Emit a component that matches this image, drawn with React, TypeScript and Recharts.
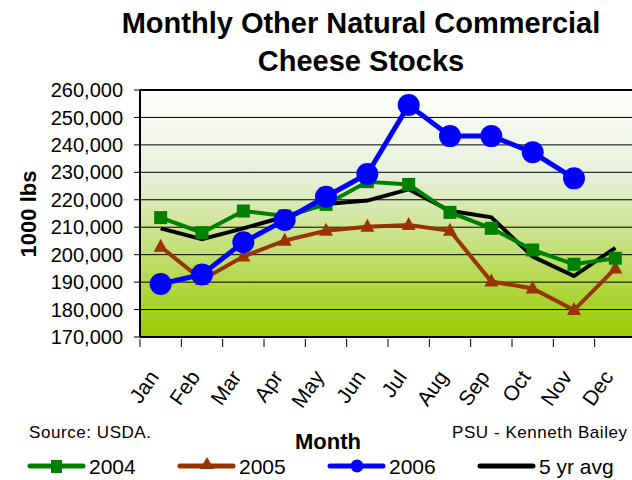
import React from "react";
import {
  LineChart,
  Line,
  XAxis,
  YAxis,
  CartesianGrid,
  Legend,
  ReferenceLine,
} from "recharts";

const months = ["Jan", "Feb", "Mar", "Apr", "May", "Jun", "Jul", "Aug", "Sep", "Oct", "Nov", "Dec"];
const stocks2004 = [213500, 208000, 215900, 214100, 218300, 226600, 225600, 215400, 209600, 201700, 196500, 198700];
const stocks2005 = [202900, 190800, 199300, 205100, 208700, 210200, 210800, 208700, 190200, 187700, 179800, 195000];
const stocks2006 = [189300, 192800, 204500, 212600, 221100, 229400, 254500, 243200, 243200, 237300, 227800, null];
const avg5yr = [209600, 205600, 209600, 213800, 218500, 219700, 223800, 216000, 213600, 199300, 192200, 202500];
const yTicks = [170000, 180000, 190000, 200000, 210000, 220000, 230000, 240000, 250000, 260000];

const data = months.map((month, i) => ({
  month,
  y2004: stocks2004[i],
  y2005: stocks2005[i],
  y2006: stocks2006[i],
  avg: avg5yr[i],
}));

const FONT = "'Liberation Sans', Arial, sans-serif";
const CHART_W = 640;
const CHART_H = 480;
const PLOT_LEFT = 140;
const PLOT_RIGHT = 4;
const BAND = (CHART_W - PLOT_LEFT - PLOT_RIGHT) / months.length;

const GREEN = "#008000";
const BROWN = "#993300";
const BLUE = "#0000FF";

function marker(kind: string, cx: number, cy: number, color: string, key?: any) {
  if (cx == null || cy == null || isNaN(cx) || isNaN(cy)) return <g key={key} />;
  if (kind === "square")
    return <rect key={key} x={cx - 6.5} y={cy - 6.5} width={13} height={13} fill={color} />;
  if (kind === "triangle")
    return (
      <polygon
        key={key}
        points={`${cx},${cy - 8} ${cx + 7},${cy + 5} ${cx - 7},${cy + 5}`}
        fill={color}
      />
    );
  if (kind === "circle") return <circle key={key} cx={cx} cy={cy} r={11} fill={color} />;
  return <g key={key} />;
}

// drawing order: later ones sit on top
const series = [
  { key: "avg", name: "5 yr avg", color: "#000000", width: 4, shape: "none" },
  { key: "y2005", name: "2005", color: BROWN, width: 4, shape: "triangle" },
  { key: "y2004", name: "2004", color: GREEN, width: 4, shape: "square" },
  { key: "y2006", name: "2006", color: BLUE, width: 5, shape: "circle" },
];
const legendOrder = ["y2004", "y2005", "y2006", "avg"];

function MonthTick(props: any) {
  const { x, y, payload } = props;
  return (
    <g>
      <line x1={x - BAND / 2} y1={y} x2={x - BAND / 2} y2={y + 8} stroke="#000" strokeWidth={1} />
      <text
        transform={`translate(${x - 1},${y + 38}) rotate(-55)`}
        textAnchor="end"
        fontSize={21}
        fontFamily={FONT}
        fill="#000"
      >
        {payload.value}
      </text>
    </g>
  );
}

function LegendBox() {
  return (
    <svg width={632} height={30} style={{ display: "block", overflow: "visible" }}>
      {legendOrder.map((k, i) => {
        const s = series.find((d) => d.key === k)!;
        const x0 = 28 + i * 150;
        return (
          <g key={k}>
            <line
              x1={x0 + 2}
              y1={10}
              x2={x0 + 55}
              y2={10}
              stroke={s.color}
              strokeWidth={5}
              strokeLinecap="round"
            />
            {s.shape === "square" && (
              <rect x={x0 + 23} y={4} width={11} height={13} fill={s.color} />
            )}
            {s.shape === "triangle" && (
              <polygon
                points={`${x0 + 29},${1} ${x0 + 36},${13} ${x0 + 22},${13}`}
                fill={s.color}
              />
            )}
            {s.shape === "circle" && <circle cx={x0 + 29} cy={10} r={6.5} fill={s.color} />}
            <text x={x0 + 61} y={18} fontSize={21} fontFamily={FONT} fill="#000">
              {s.name}
            </text>
          </g>
        );
      })}
    </svg>
  );
}

export default function App() {
  return (
    <div
      style={{
        position: "absolute",
        left: 0,
        top: 0,
        width: 632,
        height: 480,
        overflow: "hidden",
        background: "#fff",
        fontFamily: FONT,
      }}
    >
      <LineChart
        width={CHART_W}
        height={CHART_H}
        data={data}
        margin={{ top: 90, right: PLOT_RIGHT, left: 0, bottom: 83 }}
      >
        <defs>
          <linearGradient id="plotBg" x1="0" y1="0" x2="0" y2="1">
            <stop offset="0%" stopColor="#FFFFFF" />
            <stop offset="35%" stopColor="#E6EFD9" />
            <stop offset="100%" stopColor="#99CC00" />
          </linearGradient>
        </defs>
        <CartesianGrid vertical={false} stroke="#000" strokeWidth={1} fill="url(#plotBg)" />
        <XAxis
          dataKey="month"
          scale="band"
          interval={0}
          height={60}
          tickSize={0}
          tickLine={false}
          axisLine={{ stroke: "#000", strokeWidth: 2 }}
          tick={<MonthTick />}
        />
        <YAxis
          width={PLOT_LEFT}
          domain={[170000, 260000]}
          ticks={yTicks}
          interval={0}
          tickSize={6}
          tickMargin={11}
          tickFormatter={(v: number) => v.toLocaleString("en-US")}
          tick={{ fill: "#000", fontSize: 20, fontFamily: FONT }}
          axisLine={{ stroke: "#000", strokeWidth: 2 }}
          tickLine={{ stroke: "#000" }}
        />
        <ReferenceLine y={260000} stroke="#000" strokeWidth={2} />
        <Legend
          layout="horizontal"
          verticalAlign="middle"
          align="center"
          wrapperStyle={{ position: "absolute", left: 0, top: 456, width: 632, height: "auto", overflow: "visible" }}
          content={<LegendBox />}
        />
        {series.map((s) => (
          <Line
            key={s.key}
            dataKey={s.key}
            name={s.name}
            stroke={s.color}
            strokeWidth={s.width}
            type="linear"
            isAnimationActive={false}
            connectNulls={false}
            dot={
              s.shape === "none"
                ? false
                : (p: any) => marker(s.shape, p.cx, p.cy, s.color, p.key ?? `${s.key}-${p.index}`)
            }
            activeDot={false}
          />
        ))}
      </LineChart>
      <svg
        width={632}
        height={480}
        style={{ position: "absolute", left: 0, top: 0, pointerEvents: "none" }}
      >
        <text x={361} y={33} textAnchor="middle" fontSize={29} fontWeight="bold" fontFamily={FONT}>
          Monthly Other Natural Commercial
        </text>
        <text x={361} y={71} textAnchor="middle" fontSize={29} fontWeight="bold" fontFamily={FONT}>
          Cheese Stocks
        </text>
        <text
          transform="translate(36,214) rotate(-90)"
          textAnchor="middle"
          fontSize={22}
          fontWeight="bold"
          fontFamily={FONT}
        >
          1000 lbs
        </text>
        <text x={328} y={449} textAnchor="middle" fontSize={22} fontWeight="bold" fontFamily={FONT}>
          Month
        </text>
        <text x={29} y={438} fontSize={17} fontFamily={FONT} textLength={122} lengthAdjust="spacing">
          Source: USDA.
        </text>
        <text x={452} y={438} fontSize={17} fontFamily={FONT} textLength={175} lengthAdjust="spacing">
          PSU - Kenneth Bailey
        </text>
      </svg>
    </div>
  );
}
